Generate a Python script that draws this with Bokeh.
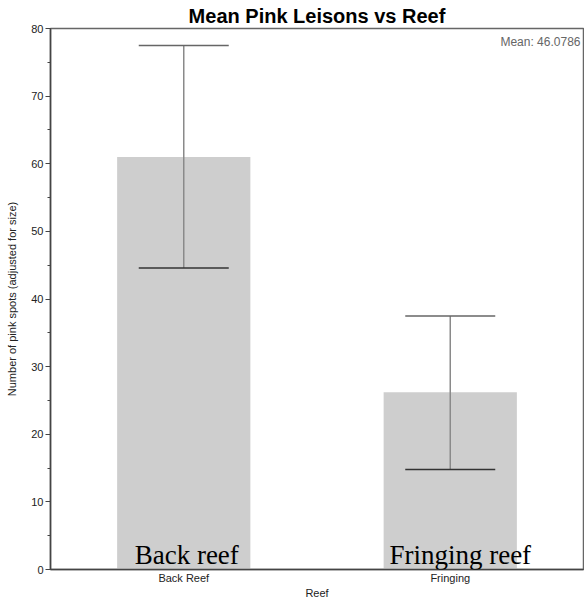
from bokeh.plotting import figure
from bokeh.models import FactorRange, Range1d, Label, Whisker, ColumnDataSource
from bokeh.embed import file_html
from bokeh.resources import INLINE

categories = ["Back Reef", "Fringing"]
means = [61.0, 26.2]
upper = [77.5, 37.5]
lower = [44.6, 14.8]
annotations = ["Back reef", "Fringing reef"]
overall_mean_text = "Mean: 46.0786"

src = ColumnDataSource(dict(cat=categories, mean=means, upper=upper, lower=lower))

p = figure(width=584, height=601, x_range=FactorRange(*categories, range_padding=0),
           y_range=Range1d(0, 80), output_backend="svg", toolbar_location=None,
           min_border_left=50, min_border_right=1, min_border_bottom=0, min_border_top=0)
p.title.text = "Mean Pink Leisons vs Reef"
p.title.align = "center"
p.title.text_font = "Liberation Sans"
p.title.text_font_size = "20px"
p.title.text_font_style = "bold"
p.title.text_color = "#000000"
p.title.offset = 0
p.title.standoff = 4

p.vbar(x="cat", top="mean", width=0.5, source=src, color="#cecece", line_color=None)
p.segment(x0="cat", y0="lower", x1="cat", y1="upper", source=src, line_color="#8a8a8a", line_width=1.5)
w = Whisker(source=src, base="cat", upper="upper", lower="lower", dimension="height",
            line_alpha=0.0, level="overlay")
w.upper_head.size = 90
w.lower_head.size = 90
w.upper_head.line_color = "#666666"
w.lower_head.line_color = "#333333"
w.upper_head.line_width = 1.5
w.lower_head.line_width = 1.5
p.add_layout(w)

p.xgrid.visible = False
p.ygrid.visible = False
p.outline_line_color = "#666666"
p.outline_line_width = 1.5

for ax in (p.xaxis[0], p.yaxis[0]):
    ax.axis_line_color = "#444444"
    ax.axis_line_width = 1.5
    ax.major_label_text_font = "Liberation Sans"
    ax.major_label_text_font_size = "11px"
    ax.major_label_text_color = "#222222"
    ax.axis_label_text_font = "Liberation Sans"
    ax.axis_label_text_font_size = "11px"
    ax.axis_label_text_font_style = "normal"
    ax.axis_label_text_color = "#222222"

p.xaxis.axis_label = "Reef"
p.xaxis.major_tick_line_color = None
p.xaxis.minor_tick_line_color = None
p.xaxis.major_tick_out = 0
p.xaxis.major_tick_in = 0
p.xaxis.minor_tick_out = 0
p.xaxis.major_label_standoff = 2
p.xaxis.axis_label_standoff = 0

p.yaxis.axis_label = "Number of pink spots (adjusted for size)"
p.yaxis.ticker.desired_num_ticks = 9
p.yaxis.ticker.num_minor_ticks = 2
p.yaxis.major_tick_out = 5
p.yaxis.major_tick_in = 0
p.yaxis.minor_tick_out = 3
p.yaxis.minor_tick_in = 0
p.yaxis.major_tick_line_color = "#444444"
p.yaxis.minor_tick_line_color = "#444444"
p.yaxis.major_label_standoff = 2
p.yaxis.axis_label_standoff = 10

p.add_layout(Label(x=0.5, y=0, text=annotations[0], x_offset=3, y_offset=15,
                   text_align="center", text_baseline="alphabetic",
                   text_font="Liberation Serif", text_font_size="27px", text_color="#000000"))
p.add_layout(Label(x=1.5, y=0, text=annotations[1], x_offset=10, y_offset=15,
                   text_align="center", text_baseline="alphabetic",
                   text_font="Liberation Serif", text_font_size="27px", text_color="#000000"))
p.add_layout(Label(x=2.0, y=80, text=overall_mean_text, x_offset=-3, y_offset=-6,
                   text_align="right", text_baseline="top",
                   text_font="Liberation Sans", text_font_size="12px", text_color="#666666"))

open("out.html", "w").write(file_html(p, INLINE))
